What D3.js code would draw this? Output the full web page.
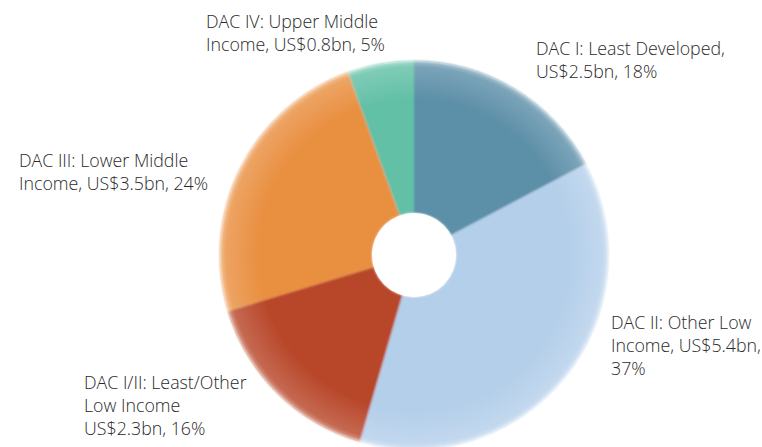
<!DOCTYPE html>
<html>
<head>
<meta charset="utf-8">
<script src="https://cdn.jsdelivr.net/npm/d3@7/dist/d3.min.js"></script>
<style>
  html, body { margin: 0; padding: 0; background: #fff; }
  svg { display: block; }
  text { font-family: "Open Sans", "DejaVu Sans", sans-serif; font-size: 17.8px; font-weight: 300; fill: #2a2a2a; }
</style>
</head>
<body>
<svg id="chart" width="762" height="447"></svg>
<script>
// ODA by DAC income group, clockwise from 12 o'clock
const groups = ["DAC I", "DAC II", "DAC I/II", "DAC III", "DAC IV"];
const amountsBn = [2.5, 5.4, 2.3, 3.5, 0.8];
const shares = [18, 37, 16, 24, 5];
const sliceColors = ["#5b8fa8", "#b4cfea", "#b8462b", "#e98f3f", "#62c0a6"];
const labelLines = [
  ["DAC I: Least Developed,", "US$2.5bn, 18%"],
  ["DAC II: Other Low", "Income, US$5.4bn,", "37%"],
  ["DAC I/II: Least/Other", "Low Income", "US$2.3bn, 16%"],
  ["DAC III: Lower Middle", "Income, US$3.5bn, 24%"],
  ["DAC IV: Upper Middle", "Income, US$0.8bn, 5%"]
];
// label anchor (left x, first baseline y)
const labelPos = [[536, 55], [611, 329], [84, 389], [19, 167], [206, 28]];

const svg = d3.select("#chart");
const cx = 414, cy = 255, outerR = 194, innerR = 42;

const defs = svg.append("defs");
const rim = defs.append("radialGradient").attr("id", "rim")
  .attr("gradientUnits", "userSpaceOnUse")
  .attr("cx", cx).attr("cy", cy).attr("r", outerR);
rim.append("stop").attr("offset", "0.8").attr("stop-color", "#fff").attr("stop-opacity", 0);
rim.append("stop").attr("offset", "0.97").attr("stop-color", "#fff").attr("stop-opacity", 0.18);
rim.append("stop").attr("offset", "1").attr("stop-color", "#fff").attr("stop-opacity", 0.45);
defs.append("filter").attr("id", "soft")
  .append("feGaussianBlur").attr("stdDeviation", 0.8);

const data = groups.map((g, i) => ({ group: g, value: amountsBn[i], color: sliceColors[i] }));
const pie = d3.pie().value(d => d.value).sort(null);
const arc = d3.arc().innerRadius(innerR).outerRadius(outerR);
const arcs = pie(data);

const g = svg.append("g").attr("transform", `translate(${cx},${cy})`).attr("filter", "url(#soft)");
g.selectAll("path.slice").data(arcs).join("path")
  .attr("class", "slice")
  .attr("d", arc)
  .attr("fill", d => d.data.color);

// light fade toward the outer rim
svg.append("circle").attr("cx", cx).attr("cy", cy).attr("r", outerR)
  .attr("fill", "url(#rim)");
svg.append("circle").attr("cx", cx).attr("cy", cy).attr("r", innerR).attr("fill", "#fff");

// labels
const lineH = 23;
labelLines.forEach((lines, i) => {
  const t = svg.append("text").attr("x", labelPos[i][0]).attr("y", labelPos[i][1]);
  lines.forEach((ln, j) => {
    t.append("tspan").attr("x", labelPos[i][0]).attr("dy", j === 0 ? 0 : lineH).text(ln);
  });
});
</script>
</body>
</html>
